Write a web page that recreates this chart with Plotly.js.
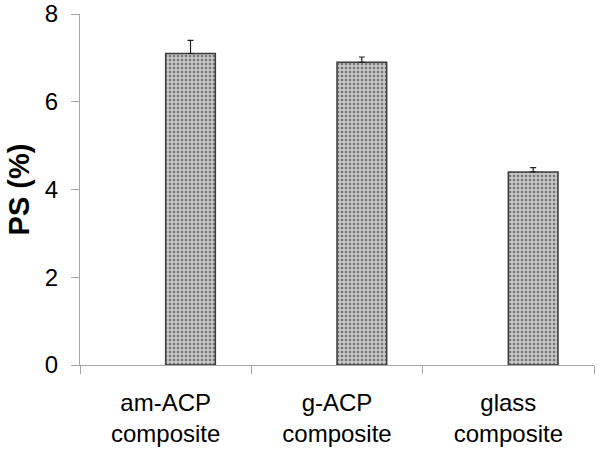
<!DOCTYPE html>
<html>
<head>
<meta charset="utf-8">
<script src="https://cdn.plot.ly/plotly-3.0.1.min.js"></script>
<style>body{margin:0;padding:0;background:#fff}</style>
</head>
<body>
<div id="chart" style="width:600px;height:450px"></div>
<script>
var categories = ["am-ACP<br>composite", "g-ACP<br>composite", "glass<br>composite"];
var psValues = [7.1, 6.9, 4.4];
var psErrors = [0.3, 0.12, 0.1];

var trace = {
  type: "bar",
  x: categories,
  y: psValues,
  offset: 0,
  width: 0.29,
  marker: {
    color: "#b8b8b8",
    line: {color: "#3c3c3c", width: 1.5},
    pattern: {shape: ".", fgcolor: "#777777", bgcolor: "#c6c6c6", size: 4, solidity: 0.35}
  },
  error_y: {
    type: "data",
    symmetric: false,
    array: psErrors,
    arrayminus: [0, 0, 0],
    color: "#222222",
    thickness: 1.2,
    width: 3
  },
  hoverinfo: "skip"
};

var layout = {
  width: 600,
  height: 450,
  margin: {l: 80, r: 6, t: 14, b: 85},
  paper_bgcolor: "#ffffff",
  plot_bgcolor: "#ffffff",
  showlegend: false,
  font: {family: "Liberation Sans, Arial, sans-serif", color: "#000000"},
  xaxis: {
    type: "category",
    range: [-0.5, 2.5],
    showline: true,
    linecolor: "#a6a6a6",
    linewidth: 1,
    ticks: "outside",
    tickson: "boundaries",
    ticklen: 8,
    tickcolor: "#a6a6a6",
    ticklabelstandoff: 16,
    tickfont: {size: 24, color: "#000000"},
    showgrid: false,
    zeroline: false
  },
  yaxis: {
    range: [0, 8],
    dtick: 2,
    tick0: 0,
    showline: true,
    linecolor: "#a6a6a6",
    linewidth: 1,
    ticks: "outside",
    ticklen: 8,
    tickcolor: "#a6a6a6",
    ticklabelstandoff: 8,
    tickfont: {size: 24, color: "#000000"},
    showgrid: false,
    zeroline: false,
    title: {text: "<b>PS (%)</b>", font: {size: 29, color: "#000000"}, standoff: 6}
  }
};

Plotly.newPlot("chart", [trace], layout, {staticPlot: true, displayModeBar: false});
</script>
</body>
</html>
